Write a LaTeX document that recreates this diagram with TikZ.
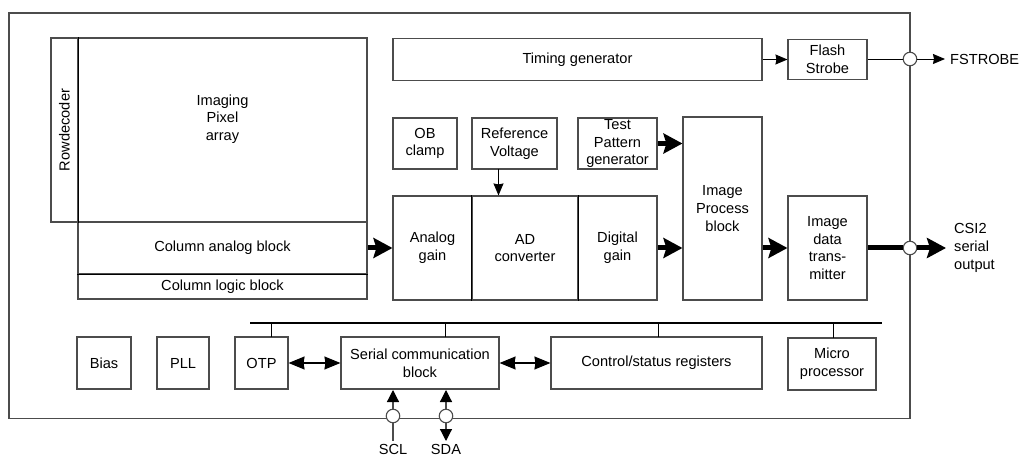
\documentclass[tikz,border=0pt]{standalone}
\usepackage{fontspec}
\setmainfont{Liberation Sans}
\usetikzlibrary{arrows.meta}
\definecolor{edge}{gray}{0.3}
\tikzset{
 blk/.style={draw=edge,line width=1.1pt,inner sep=0pt,align=center,font=\fontsize{14.6}{17.6}\selectfont,fill=white},
 thin arrow/.style={draw=black,line width=0.9pt,-{Stealth[length=12pt,width=10pt,inset=1pt]}},
 thick arrow/.style={draw=black,line width=5pt,-{Stealth[length=19pt,width=20pt,inset=3pt]}},
 both arrow/.style={draw=black,line width=1.2pt,{Stealth[length=16pt,width=13pt,inset=1pt]}-{Stealth[length=16pt,width=13pt,inset=1pt]}},
 pin/.style={circle,draw=edge,line width=1.1pt,fill=white,minimum size=13.5pt,inner sep=0pt},
 lbl/.style={inner sep=0pt,align=left,font=\fontsize{14.6}{17.6}\selectfont},
 divider/.style={draw=black,line width=1pt},
}
\begin{document}
\begin{tikzpicture}[x=1pt,y=1pt]
\useasboundingbox (0,0) rectangle (1021,-457);
\draw[draw=edge,line width=1.1pt] (9,-13) rectangle (910,-418.5);
\node[blk,minimum width=27pt,minimum height=184pt] (row) at (64.5,-130) {\rotatebox{90}{Row\hspace{-4pt} decoder}};
\node[blk,minimum width=289pt,minimum height=184pt] (pix) at (222.5,-130) {Imaging\\Pixel\\array\\[7pt]};
\node[blk,minimum width=289pt,minimum height=52pt] (cab) at (222.5,-248) {Column analog block};
\node[blk,minimum width=289pt,minimum height=25pt] (clb) at (222.5,-286.5) {Column logic block};
\node[blk,minimum width=369pt,minimum height=42pt] (tim) at (577.5,-59.5) {Timing generator};
\node[blk,minimum width=79pt,minimum height=40pt] (fla) at (827.5,-59.5) {Flash\\Strobe};
\node[blk,minimum width=64pt,minimum height=51pt] (ob) at (425,-143.5) {OB\\clamp};
\node[blk,minimum width=85pt,minimum height=51pt] (ref) at (514.5,-143.5) {Reference\\Voltage};
\node[blk,minimum width=79pt,minimum height=51pt] (tp) at (617.5,-143.5) {Test\\Pattern\\generator};
\node[blk,minimum width=79pt,minimum height=104pt] (ag) at (432.5,-248) {Analog\\gain};
\node[blk,minimum width=106pt,minimum height=104pt] (ad) at (525,-248) {AD\\converter};
\node[blk,minimum width=79pt,minimum height=104pt] (dg) at (617.5,-248) {Digital\\gain};
\node[blk,minimum width=79pt,minimum height=183pt] (ip) at (722.5,-208.5) {Image\\Process\\block};
\node[blk,minimum width=79pt,minimum height=104pt] (tx) at (827.5,-248) {Image\\data\\trans-\\mitter};
\node[blk,minimum width=54pt,minimum height=52pt] (bias) at (104,-363) {Bias};
\node[blk,minimum width=52pt,minimum height=52pt] (pll) at (183,-363) {PLL};
\node[blk,minimum width=53pt,minimum height=52pt] (otp) at (261.5,-363) {OTP};
\node[blk,minimum width=158pt,minimum height=52pt] (ser) at (420,-363) {Serial communication\\block};
\node[blk,minimum width=211pt,minimum height=52pt] (ctl) at (656.5,-363) {Control/status registers};
\node[blk,minimum width=88pt,minimum height=52pt] (mic) at (832,-364) {Micro\\processor};
\draw[divider] (row.north east) -- (row.south east);
\draw[divider] (cab.south west) -- (cab.south east);
\draw[divider] (ad.north west) -- (ad.south west);
\draw[divider] (ad.north east) -- (ad.south east);
\coordinate (busL) at (250,-323);
\coordinate (busR) at (882,-323);
\coordinate (otpTop) at (271,-337);
\coordinate (serTop) at (445,-337);
\coordinate (ctlTop) at (658,-337);
\coordinate (micTop) at (833,-338);
\draw[line width=2.8pt] (busL) -- (busR);
\draw[line width=1pt] (otpTop) -- (otpTop|-busL);
\draw[line width=1pt] (serTop) -- (serTop|-busL);
\draw[line width=1pt] (ctlTop) -- (ctlTop|-busL);
\draw[line width=1pt] (micTop) -- (micTop|-busL);
\draw[thin arrow] (tim.east) -- (fla.west);
\coordinate (refOut) at (498.5,-169);
\draw[thin arrow] (refOut) -- (refOut|-ad.north);
\draw[thick arrow] (cab.east) -- (ag.west);
\draw[thick arrow] (tp.east) -- (ip.west|-tp.east);
\draw[thick arrow] (dg.east) -- (ip.west|-dg.east);
\draw[thick arrow] (ip.east|-tx.west) -- (tx.west);
\draw[both arrow] (otp.east) -- (ser.west|-otp.east);
\draw[both arrow] (ser.east) -- (ctl.west);
\node[lbl,anchor=west] (fs) at (950,-59) {FSTROBE};
\node[lbl,anchor=west] (csi) at (954,-248) {CSI2\\serial\\output};
\node[pin] (p1) at (910,-59) {};
\node[pin] (p2) at (910,-248) {};
\coordinate (fsend) at (945,-59);
\coordinate (csiend) at (946,-248);
\draw[line width=0.9pt] (fla.east|-p1) -- (p1);
\draw[thin arrow] (p1) -- (fsend);
\draw[line width=5pt] (tx.east) -- (p2);
\draw[thick arrow] (p2) -- (csiend);
\node[pin] (p3) at (393,-416) {};
\node[pin] (p4) at (446,-416) {};
\node[lbl,anchor=center] (scl) at (393,-449.5) {SCL};
\node[lbl,anchor=center] (sda) at (446,-449.5) {SDA};
\coordinate (sclend) at (393,-441);
\coordinate (sdaend) at (446,-441);
\draw[draw=edge,line width=1.2pt,-{Stealth[length=12pt,width=12pt,inset=0pt,color=black]}] (p3) -- (393,-390);
\draw[draw=edge,line width=1.2pt] (p3) -- (sclend);
\draw[draw=edge,line width=1.2pt,-{Stealth[length=12pt,width=12pt,inset=0pt,color=black]}] (p4) -- (446,-390);
\draw[draw=edge,line width=1.2pt,-{Stealth[length=12pt,width=12pt,inset=0pt,color=black]}] (p4) -- (sdaend);
\end{tikzpicture}
\end{document}
